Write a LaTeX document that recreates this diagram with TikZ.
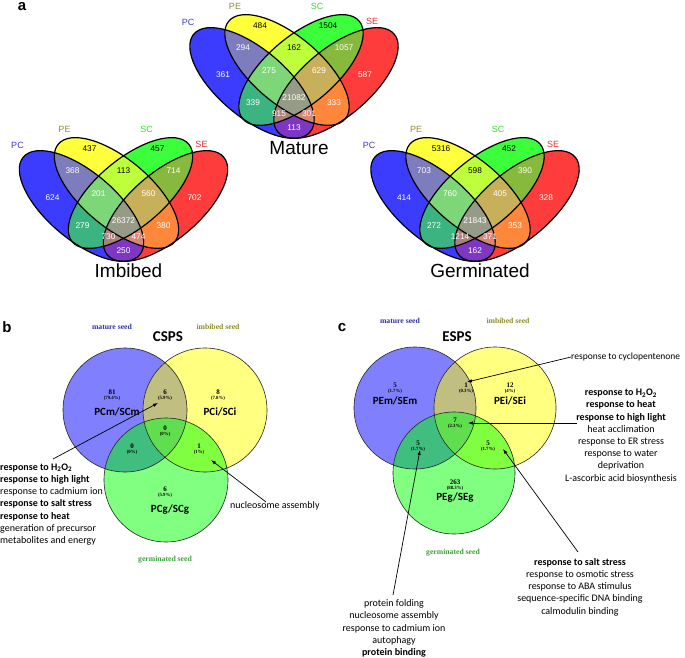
\documentclass[tikz,border=0pt]{standalone}
\usepackage{fontspec}
\usetikzlibrary{arrows.meta}
\newfontfamily\lsans{Liberation Sans}
\newfontfamily\carl{Carlito}
\newfontfamily\tnr{Liberation Serif}
\definecolor{vA}{RGB}{60,60,255}
\definecolor{vB}{RGB}{255,255,60}
\definecolor{vC}{RGB}{60,255,60}
\definecolor{vD}{RGB}{255,60,60}
\definecolor{vAB}{RGB}{125,125,190}
\definecolor{vAC}{RGB}{60,180,130}
\definecolor{vAD}{RGB}{125,55,195}
\definecolor{vBC}{RGB}{190,255,60}
\definecolor{vBD}{RGB}{255,135,60}
\definecolor{vCD}{RGB}{135,185,60}
\definecolor{vABC}{RGB}{125,215,120}
\definecolor{vABD}{RGB}{215,135,120}
\definecolor{vACD}{RGB}{170,130,125}
\definecolor{vBCD}{RGB}{200,175,90}
\definecolor{vABCD}{RGB}{150,155,135}
\definecolor{catA}{RGB}{60,60,200}
\definecolor{catB}{RGB}{140,140,60}
\definecolor{catC}{RGB}{50,220,50}
\definecolor{catD}{RGB}{230,50,50}
\definecolor{cA}{RGB}{128,128,255}
\definecolor{cB}{RGB}{255,255,128}
\definecolor{cC}{RGB}{128,255,128}
\definecolor{cAB}{RGB}{192,190,128}
\definecolor{cAC}{RGB}{64,190,128}
\definecolor{cBC}{RGB}{128,255,64}
\definecolor{cABC}{RGB}{96,222,80}
\definecolor{seedA}{RGB}{50,50,160}
\definecolor{seedB}{RGB}{140,140,40}
\definecolor{seedC}{RGB}{60,160,60}
\def\ea{76}\def\eb{34}
\newcommand\elA[1]{\path[#1,rotate around={-40:(-42,-6)}] (-42,-6) ellipse [x radius=\ea,y radius=\eb];}
\newcommand\elB[1]{\path[#1,rotate around={-40:(-7,7)}] (-7,7) ellipse [x radius=\ea,y radius=\eb];}
\newcommand\elC[1]{\path[#1,rotate around={40:(7,7)}] (7,7) ellipse [x radius=\ea,y radius=\eb];}
\newcommand\elD[1]{\path[#1,rotate around={40:(42,-6)}] (42,-6) ellipse [x radius=\ea,y radius=\eb];}
\newcommand\quadvenn{%
 \elA{fill=vA}\elB{fill=vB}\elC{fill=vC}\elD{fill=vD}%
 \begin{scope}\elA{clip}\elB{fill=vAB}\elC{fill=vAC}\elD{fill=vAD}\end{scope}%
 \begin{scope}\elB{clip}\elC{fill=vBC}\elD{fill=vBD}\end{scope}%
 \begin{scope}\elC{clip}\elD{fill=vCD}\end{scope}%
 \begin{scope}\elA{clip}\elB{clip}\elC{fill=vABC}\elD{fill=vABD}\end{scope}%
 \begin{scope}\elA{clip}\elC{clip}\elD{fill=vACD}\end{scope}%
 \begin{scope}\elB{clip}\elC{clip}\elD{fill=vBCD}\end{scope}%
 \begin{scope}\elA{clip}\elB{clip}\elC{clip}\elD{fill=vABCD}\end{scope}%
 \elA{vline}\elB{vline}\elC{vline}\elD{vline}}
\newcommand\vnumsA[9]{%
 \node[vnumk] (#1B) at (-34,51) {#2};
 \node[vnumk] (#1C) at (34,51) {#3};
 \node[vnum] (#1AB) at (-51,29) {#4};
 \node[vnumk] (#1BC) at (0,29) {#5};
 \node[vnum] (#1CD) at (50,29) {#6};
 \node[vnum] (#1A) at (-71,2) {#7};
 \node[vnum] (#1ABC) at (-25,6) {#8};
 \node[vnum] (#1BCD) at (25,6) {#9};}
\newcommand\vnumsB[8]{%
 \node[vnum] (#1D) at (71,2) {#2};
 \node[vnum] (#1AC) at (-41,-26) {#3};
 \node[vnum] (#1ABCD) at (0,-21) {#4};
 \node[vnum] (#1BD) at (40,-26) {#5};
 \node[vnum] (#1ACD) at (-15,-37) {#6};
 \node[vnum] (#1ABD) at (15,-37) {#7};
 \node[vnum] (#1AD) at (0,-51) {#8};}
\newcommand\vcats[2]{%
 \node[vcat,text=catA] (#1pc) at (-106,55) {PC};
 \node[vcat,text=catB] (#1pe) at (-59,71) {PE};
 \node[vcat,text=catC] (#1sc) at (23,71) {SC};
 \node[vcat,text=catD] (#1se) at (78,56) {SE};
 \node[vtitle] (#1title) at (5,-71) {#2};}
\newcommand\tricirc[7]{%
 \fill[cA] (#1,#2) circle[radius=#7];
 \fill[cB] (#3,#4) circle[radius=#7];
 \fill[cC] (#5,#6) circle[radius=#7];
 \begin{scope}\clip (#1,#2) circle[radius=#7];
  \fill[cAB] (#3,#4) circle[radius=#7];
  \fill[cAC] (#5,#6) circle[radius=#7];\end{scope}
 \begin{scope}\clip (#3,#4) circle[radius=#7];
  \fill[cBC] (#5,#6) circle[radius=#7];\end{scope}
 \begin{scope}\clip (#1,#2) circle[radius=#7];\clip (#3,#4) circle[radius=#7];
  \fill[cABC] (#5,#6) circle[radius=#7];\end{scope}
 \draw[cline] (#1,#2) circle[radius=#7] (#3,#4) circle[radius=#7] (#5,#6) circle[radius=#7];}
\begin{document}
\begin{tikzpicture}[x=1pt,y=1pt,
  vline/.style={draw=black,line width=1.2pt},
  cline/.style={draw=black!85,line width=0.6pt},
  vnum/.style={font=\lsans\fontsize{8.3}{9}\selectfont,text=white,inner sep=0pt},
  vnumk/.style={vnum,text=black},
  vcat/.style={font=\lsans\fontsize{9}{10}\selectfont,inner sep=0pt},
  vtitle/.style={font=\lsans\fontsize{19}{20}\selectfont,inner sep=0pt},
  panel/.style={font=\lsans\bfseries\fontsize{15}{16}\selectfont,inner sep=0pt},
  seed/.style={font=\tnr\bfseries\fontsize{7.7}{8}\selectfont,inner sep=0pt},
  cnt/.style={font=\tnr\bfseries\fontsize{7}{8}\selectfont,inner sep=0pt},
  pct/.style={font=\tnr\bfseries\fontsize{4.8}{5}\selectfont,inner sep=0pt},
  setname/.style={font=\carl\bfseries\fontsize{11}{12}\selectfont,inner sep=0pt},
  ttl/.style={font=\carl\bfseries\fontsize{15}{16}\selectfont,inner sep=0pt},
  annot/.style={font=\carl\fontsize{10}{12.2}\selectfont,inner sep=0pt},
  arr/.style={-{Latex[length=5pt,width=3.5pt]},line width=0.7pt},
]
\useasboundingbox (0,0) rectangle (685,-658);
\node[panel] (pa) at (22,-7) {a};
% Mature
\begin{scope}[shift={(294,-77)}]
\quadvenn
\vnumsA{m}{484}{1504}{294}{162}{1057}{361}{275}{629}
\vnumsB{m}{587}{339}{21082}{333}{915}{301}{113}
\vcats{m}{Mature}
\end{scope}
% Imbibed
\begin{scope}[shift={(123.5,-200)}]
\quadvenn
\vnumsA{i}{437}{457}{368}{113}{714}{624}{201}{560}
\vnumsB{i}{702}{279}{26372}{380}{730}{474}{250}
\vcats{i}{Imbibed}
\end{scope}
% Germinated
\begin{scope}[shift={(475,-200)}]
\quadvenn
\vnumsA{g}{5316}{452}{703}{598}{390}{414}{760}{405}
\vnumsB{g}{328}{272}{21843}{353}{1214}{371}{162}
\vcats{g}{Germinated}
\end{scope}
% Panel b
\node[panel] (pb) at (7,-327) {b};
\tricirc{125}{-410}{205}{-410}{166}{-480}{62}
\node[seed,text=seedA] (bms) at (112,-327) {mature seed};
\node[seed,text=seedB] (bis) at (218,-327) {imbibed seed};
\node[seed,text=seedC] (bgs) at (165,-560) {germinated seed};
\node[ttl] (bt) at (168,-337) {CSPS};
\node[cnt] (bA) at (112,-392) {81}; \node[pct] (bAp) at (112,-398.5) {(79.4\%)};
\node[setname] (bAn) at (117,-412) {PCm/SCm};
\node[cnt] (bAB) at (165,-392) {6}; \node[pct] (bABp) at (165,-398.5) {(5.9\%)};
\node[cnt] (bB) at (218,-392) {8}; \node[pct] (bBp) at (218,-398.5) {(7.8\%)};
\node[setname] (bBn) at (220,-412) {PCi/SCi};
\node[cnt] (bABC) at (165,-428) {0}; \node[pct] (bABCp) at (165,-434.5) {(0\%)};
\node[cnt] (bAC) at (132,-446) {0}; \node[pct] (bACp) at (132,-452.5) {(0\%)};
\node[cnt] (bBC) at (199,-446) {1}; \node[pct] (bBCp) at (199,-452.5) {(1\%)};
\node[cnt] (bC) at (165,-489) {6}; \node[pct] (bCp) at (165,-495.5) {(5.9\%)};
\node[setname] (bCn) at (170,-510) {PCg/SCg};
\node[annot,anchor=north west,align=left] (bann) at (0,-463.5) {\textbf{response to H\textsubscript{2}O\textsubscript{2}}\\\textbf{response to high light}\\response to cadmium ion\\\textbf{response to salt stress}\\\textbf{response to heat}\\generation of precursor\\metabolites and energy};
\node[annot,anchor=west] (bnuc) at (230,-506) {nucleosome assembly};
\coordinate (b1t) at (53,-459); \coordinate (b1h) at (158,-403);
\coordinate (b2t) at (266,-502); \coordinate (b2h) at (211,-460);
\draw[arr] (b1t) -- (b1h);
\draw[arr] (b2t) -- (b2h);
% Panel c
\node[panel] (pc) at (342,-328) {c};
\tricirc{415}{-408}{495}{-408}{454}{-473}{61}
\node[seed,text=seedA] (cms) at (400,-321) {mature seed};
\node[seed,text=seedB] (cis) at (508,-321) {imbibed seed};
\node[seed,text=seedC] (cgs) at (453,-553) {germinated seed};
\node[ttl] (ct) at (457,-337) {ESPS};
\node[cnt] (cA) at (395,-385) {5}; \node[pct] (cAp) at (395,-391.5) {(1.7\%)};
\node[setname] (cAn) at (395,-401) {PEm/SEm};
\node[cnt] (cAB) at (466,-385) {1}; \node[pct] (cABp) at (466,-391.5) {(0.3\%)};
\node[cnt] (cB) at (510,-385) {12}; \node[pct] (cBp) at (510,-391.5) {(4\%)};
\node[setname] (cBn) at (510,-401) {PEi/SEi};
\node[cnt] (cABC) at (455,-420) {7}; \node[pct] (cABCp) at (455,-426.5) {(2.3\%)};
\node[cnt] (cAC) at (418,-443) {5}; \node[pct] (cACp) at (418,-449.5) {(1.7\%)};
\node[cnt] (cBC) at (488,-443) {5}; \node[pct] (cBCp) at (488,-449.5) {(1.7\%)};
\node[cnt] (cC) at (455,-482) {263}; \node[pct] (cCp) at (455,-488.5) {(88.3\%)};
\node[setname] (cCn) at (455,-498) {PEg/SEg};
\node[annot,anchor=west,font=\carl\fontsize{9.5}{12}\selectfont] (ccyc) at (571,-357) {response to cyclopentenone};
\node[annot,anchor=north,align=center] (cright) at (621,-389) {\textbf{response to H\textsubscript{2}O\textsubscript{2}}\\\textbf{response to heat}\\\textbf{response to high light}\\heat acclimation\\response to ER stress\\response to water\\deprivation\\L-ascorbic acid biosynthesis};
\node[annot,anchor=north,align=center] (cbr) at (580,-558) {\textbf{response to salt stress}\\response to osmotic stress\\response to ABA stimulus\\sequence-specific DNA binding\\calmodulin binding};
\node[annot,anchor=north,align=center] (cbl) at (394,-599.5) {protein folding\\nucleosome assembly\\response to cadmium ion\\autophagy\\\textbf{protein binding}};
\coordinate (c1h) at (467,-382);
\coordinate (c2t) at (577,-423); \coordinate (c2h) at (468,-423);
\coordinate (c3t) at (578,-552); \coordinate (c3h) at (503,-449);
\coordinate (c4t) at (393,-595); \coordinate (c4h) at (420,-450);
\draw[arr] (ccyc.west) -- (c1h);
\draw[arr] (c2t) -- (c2h);
\draw[arr] (c3t) -- (c3h);
\draw[arr] (c4t) -- (c4h);
\end{tikzpicture}
\end{document}
